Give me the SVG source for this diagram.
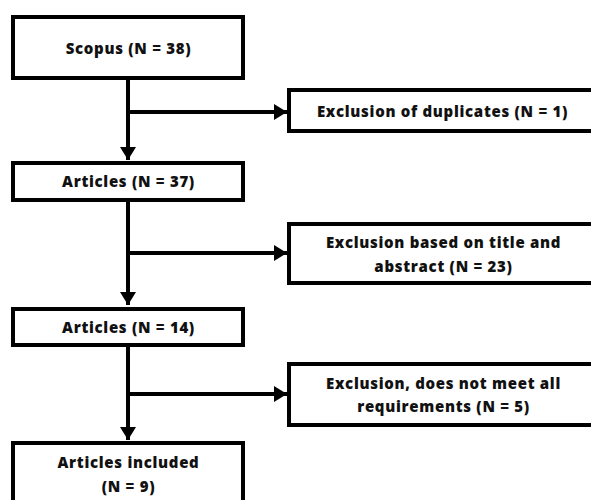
<svg xmlns="http://www.w3.org/2000/svg" width="591" height="500" viewBox="0 0 591 500">
<defs>
<style>
.box{fill:#fff;stroke:#000;stroke-width:4}
.t{font-family:"Open Sans","DejaVu Sans",sans-serif;font-weight:800;font-size:15px;letter-spacing:0.7px;fill:#111;text-anchor:middle}
.ln{stroke:#000;stroke-width:4;fill:none}
</style>
<marker id="ah" viewBox="0 0 13 16" refX="13" refY="8" markerWidth="13" markerHeight="16" markerUnits="userSpaceOnUse" orient="auto">
<path d="M0,0L13,8L0,16z" fill="#000"/>
</marker>
</defs>
<rect width="591" height="500" fill="#fff"/>
<g id="connectors">
<path class="ln" d="M128,78V160" marker-end="url(#ah)"/>
<path class="ln" d="M128,112H287" marker-end="url(#ah)"/>
<path class="ln" d="M128,202V305" marker-end="url(#ah)"/>
<path class="ln" d="M128,253H287" marker-end="url(#ah)"/>
<path class="ln" d="M128,347V440" marker-end="url(#ah)"/>
<path class="ln" d="M128,394H287" marker-end="url(#ah)"/>
</g>
<g id="scopus">
<rect class="box" x="13" y="17" width="230" height="61"/>
<text class="t" x="128.5" y="54">Scopus (N = 38)</text>
</g>
<g id="articles37">
<rect class="box" x="13" y="163" width="230" height="37"/>
<text class="t" x="128.5" y="187">Articles (N = 37)</text>
</g>
<g id="articles14">
<rect class="box" x="13" y="309" width="230" height="36"/>
<text class="t" x="128.5" y="333">Articles (N = 14)</text>
</g>
<g id="included">
<rect class="box" x="13" y="443" width="230" height="70"/>
<text class="t" x="128.5" y="468">Articles included</text>
<text class="t" x="128.5" y="492">(N = 9)</text>
</g>
<g id="duplicates">
<rect class="box" x="289" y="90" width="310" height="41"/>
<text class="t" x="442.5" y="117">Exclusion of duplicates (N = 1)</text>
</g>
<g id="title-abstract">
<rect class="box" x="289" y="224" width="310" height="59"/>
<text class="t" x="443.5" y="248">Exclusion based on title and</text>
<text class="t" x="443.5" y="272">abstract (N = 23)</text>
</g>
<g id="requirements">
<rect class="box" x="289" y="364" width="310" height="61"/>
<text class="t" x="443.5" y="389">Exclusion, does not meet all</text>
<text class="t" x="443.5" y="412">requirements (N = 5)</text>
</g>
</svg>
